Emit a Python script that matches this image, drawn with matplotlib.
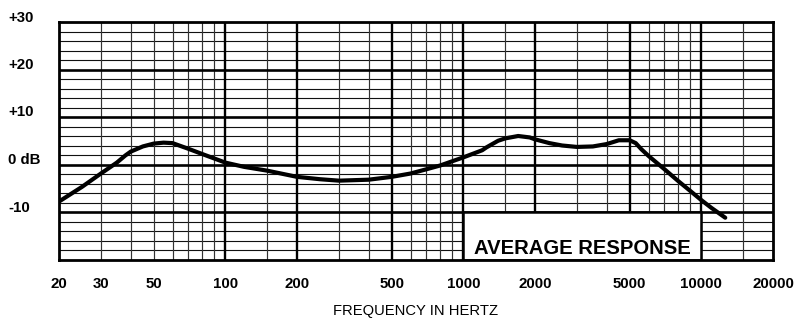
import matplotlib
matplotlib.use("Agg")
import matplotlib.pyplot as plt
import matplotlib.transforms as mtransforms
from matplotlib.patches import Rectangle

# ---- data ----
freq = [20, 25, 30, 35, 38, 40, 45, 50, 55, 60, 70, 80, 100, 120, 150, 200, 250,
        300, 400, 500, 600, 700, 800, 900, 1000, 1200, 1250, 1400, 1500, 1700,
        1900, 2000, 2300, 2600, 3000, 3500, 4000, 4500, 5000, 5300, 5600, 6000,
        7000, 8000, 9000, 10000, 11000, 12600]
response_db = [-7.8, -4.7, -1.9, 0.4, 1.9, 2.7, 3.8, 4.4, 4.6, 4.5, 3.3, 2.2, 0.4,
               -0.5, -1.3, -2.6, -3.1, -3.4, -3.2, -2.6, -1.9, -1.0, -0.2, 0.7, 1.5,
               3.0, 3.6, 5.0, 5.5, 6.0, 5.7, 5.3, 4.5, 4.0, 3.7, 3.8, 4.3, 5.1, 5.1,
               4.5, 3.2, 1.8, -1.0, -3.5, -5.6, -7.5, -9.1, -11.2]

x_tick_vals = [20, 30, 50, 100, 200, 500, 1000, 2000, 5000, 10000, 20000]
x_tick_labels = ["20", "30", "50", "100", "200", "500", "1000", "2000", "5000", "10000", "20000"]
y_tick_vals = [30, 20, 10, 0, -10]
y_tick_labels = ["+30", "+20", "+10", "0 dB", "-10"]

major_v = [100, 200, 500, 1000, 2000, 5000, 10000]
minor_v = [30, 40, 50, 60, 70, 80, 90, 150, 300, 400, 600, 700, 800, 900, 1500,
           3000, 4000, 6000, 7000, 8000, 9000, 15000]
major_h = [-10, 0, 10, 20]
minor_h = [v for v in range(-18, 30, 2) if v % 10 != 0]

box_label = "AVERAGE RESPONSE"
x_title = "FREQUENCY IN HERTZ"

# ---- figure ----
W, H = 794, 319
fig = plt.figure(figsize=(W / 100, H / 100), dpi=100)
ax = fig.add_axes([59 / W, 1 - 259.5 / H, (773 - 59) / W, (259.5 - 22) / H])
ax.set_xscale("log")
ax.set_xlim(20, 20000)
ax.set_ylim(-20, 30)

for v in minor_h:
    ax.axhline(v, color="#111111", lw=0.8, zorder=1)
for v in minor_v:
    ax.axvline(v, color="#333333", lw=0.85, zorder=1)
for v in major_h:
    ax.axhline(v, color="black", lw=1.9, zorder=2)
for v in major_v:
    ax.axvline(v, color="black", lw=1.7, zorder=2)

# label box
ax.add_patch(Rectangle((1000, -20), 10000 - 1000, 10, facecolor="white",
                       edgecolor="black", lw=1.8, zorder=3))
ax.text(3162, -17.6, box_label, ha="center", va="center", fontsize=14.6,
        fontweight="bold", family="Liberation Sans", zorder=4)

ax.plot(freq, response_db, color="black", lw=3.0, solid_capstyle="round",
        solid_joinstyle="round", zorder=5)

for s in ax.spines.values():
    s.set_linewidth(2.0)
    s.set_zorder(6)

ax.set_xticks([])
ax.set_yticks([])
ax.minorticks_off()
ax.tick_params(which="both", length=0)

# x tick labels
tx = mtransforms.blended_transform_factory(ax.transData, fig.transFigure)
for v, lab in zip(x_tick_vals, x_tick_labels):
    ax.text(v, 1 - 284 / H, lab, transform=tx, ha="center", va="center",
            fontsize=10.8, fontweight="bold", family="Liberation Sans")

# y tick labels
ty = mtransforms.blended_transform_factory(fig.transFigure, ax.transData) + \
     mtransforms.ScaledTranslation(0, 4.5 / 100, fig.dpi_scale_trans)
for v, lab in zip(y_tick_vals, y_tick_labels):
    ax.text(8 / W, v, lab, transform=ty, ha="left", va="center",
            fontsize=10.8, fontweight="bold", family="Liberation Sans")

fig.text(416 / W, 1 - 315 / H, x_title, ha="center", va="baseline",
         fontsize=10.6, family="Liberation Sans")

fig.savefig("out.png", dpi=100)
